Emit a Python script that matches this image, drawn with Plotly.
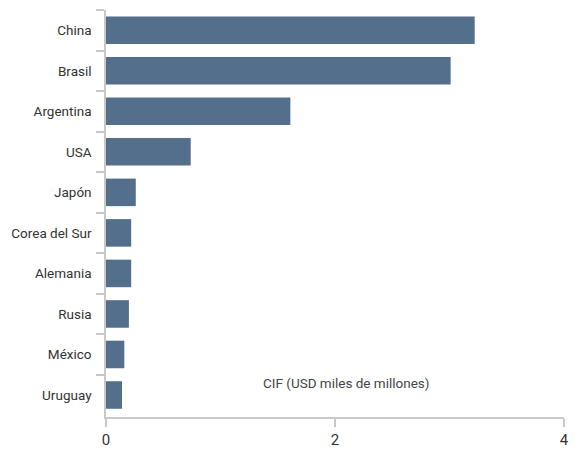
import plotly.graph_objects as go

countries = ["China", "Brasil", "Argentina", "USA", "Japón", "Corea del Sur",
             "Alemania", "Rusia", "México", "Uruguay"]
values = [3.22, 3.01, 1.61, 0.74, 0.26, 0.22, 0.22, 0.20, 0.16, 0.14]
x_ticks = [0, 2, 4]
axis_note = "CIF (USD miles de millones)"

FONT = "Roboto, sans-serif"

fig = go.Figure(go.Bar(
    y=countries, x=values, orientation="h",
    marker=dict(color="#536f8b", line=dict(width=0)),
))

fig.update_layout(
    width=582, height=451,
    margin=dict(l=105.5, r=18, t=10, b=34.3, autoexpand=False),
    paper_bgcolor="white", plot_bgcolor="white",
    bargap=0.32,
    showlegend=False,
    font=dict(family=FONT, size=13.5, color="#333333"),
)
fig.update_xaxes(
    range=[0, 4], tickvals=x_ticks, showgrid=False, zeroline=False,
    showline=True, linecolor="#c8c8c8", linewidth=1.5,
    ticks="outside", ticklen=8, tickcolor="#c8c8c8", tickwidth=1.5,
    tickfont=dict(size=15, color="#333333"), automargin=False,
)
fig.update_yaxes(
    autorange="reversed", showgrid=False, zeroline=False,
    showline=True, linecolor="#c8c8c8", linewidth=1.5,
    ticks="outside", ticklen=8, tickcolor="#c8c8c8", tickwidth=1.5,
    tickson="boundaries", ticklabelstandoff=10, automargin=False,
)
fig.add_annotation(
    text=axis_note, xref="x", yref="y", x=2.1, y="Uruguay", yshift=12,
    showarrow=False, xanchor="center", font=dict(size=13.5, color="#444444"),
)

fig.write_html("out.html", config={"displayModeBar": False},
               post_script="document.body.style.margin='0';")
